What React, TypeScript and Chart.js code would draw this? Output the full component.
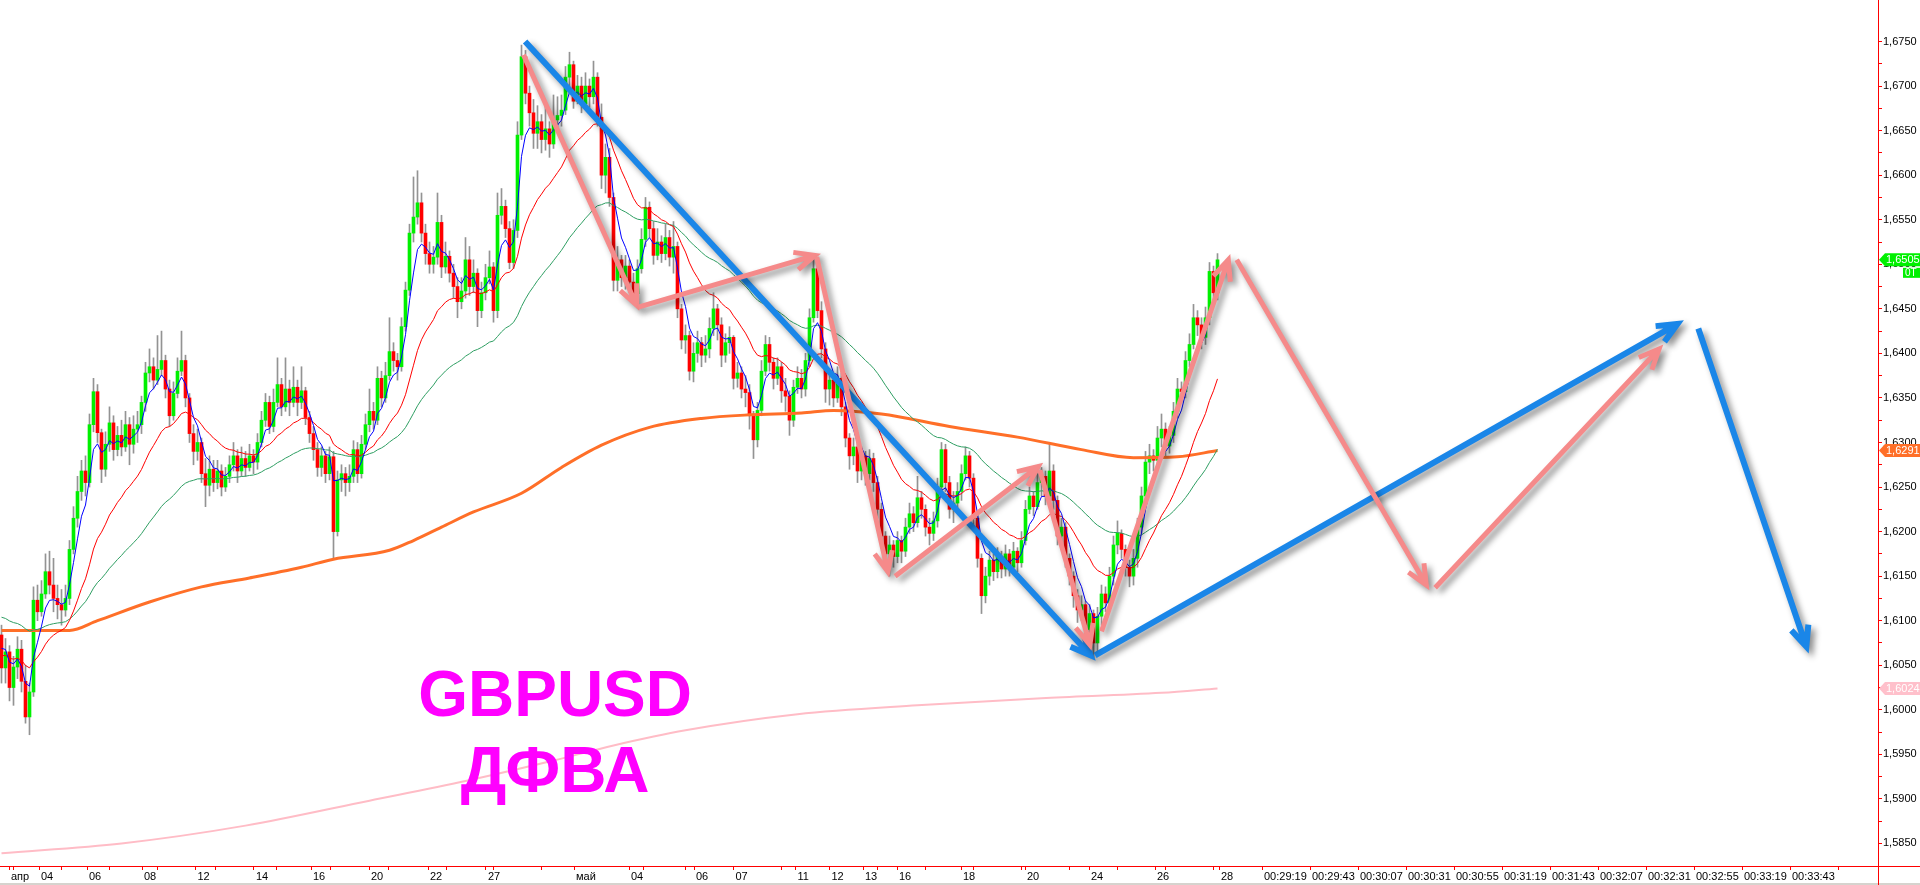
import React, { useEffect, useRef } from 'react';
import { Chart, registerables } from 'chart.js';

Chart.register(...registerables);

// ---------- price data (H4 bars) ----------
const firstOpen = 1.6084;

const closes = [
  1.6047, 1.6065, 1.6025, 1.6048, 1.6068, 1.6032, 1.5992, 1.6020, 1.6123, 1.6110,
  1.6130, 1.6155, 1.6140, 1.6125, 1.6118, 1.6112, 1.6125, 1.6180, 1.6215, 1.6245,
  1.6268, 1.6255, 1.6320, 1.6357, 1.6311, 1.6270, 1.6298, 1.6322, 1.6292, 1.6308,
  1.6295, 1.6320, 1.6298, 1.6315, 1.6320, 1.6345, 1.6378, 1.6385, 1.6370, 1.6382,
  1.6392, 1.6360, 1.6330, 1.6355, 1.6380, 1.6392, 1.6350, 1.6310, 1.6290, 1.6300,
  1.6265, 1.6252, 1.6270, 1.6255, 1.6268, 1.6250, 1.6262, 1.6275, 1.6285, 1.6268,
  1.6282, 1.6272, 1.6285, 1.6278, 1.6300, 1.6325, 1.6345, 1.6318, 1.6345, 1.6365,
  1.6340, 1.6360, 1.6345, 1.6362, 1.6345, 1.6358, 1.6328, 1.6310, 1.6292, 1.6272,
  1.6285, 1.6265, 1.6284, 1.6200, 1.6258, 1.6265, 1.6255, 1.6262, 1.6292, 1.6265,
  1.6298, 1.6320, 1.6335, 1.6325, 1.6372, 1.6350, 1.6375, 1.6402, 1.6392, 1.6385,
  1.6430, 1.6471, 1.6535, 1.6553, 1.6569, 1.6535, 1.6512, 1.6500, 1.6508, 1.6547,
  1.6497, 1.6509, 1.6490, 1.6475, 1.6458, 1.6470, 1.6505, 1.6475, 1.6490, 1.6448,
  1.6468, 1.6485, 1.6497, 1.6448, 1.6555, 1.6565, 1.6540, 1.6502, 1.6538, 1.6645,
  1.6733, 1.6692, 1.6670, 1.6647, 1.6660, 1.6640, 1.6652, 1.6635, 1.6662, 1.6667,
  1.6673, 1.6710, 1.6724, 1.6683, 1.6700, 1.6680, 1.6700, 1.6688, 1.6710, 1.6665,
  1.6600, 1.6620, 1.6575, 1.6482, 1.6505, 1.6485, 1.6498, 1.6480, 1.6467, 1.6495,
  1.6528, 1.6564, 1.6540, 1.6510, 1.6525, 1.6512, 1.6530, 1.6508, 1.6520, 1.6450,
  1.6415, 1.6420, 1.6380, 1.6400, 1.6412, 1.6398, 1.6405, 1.6428, 1.6450, 1.6432,
  1.6398, 1.6412, 1.6418, 1.6372, 1.6378, 1.6360, 1.6356, 1.6330, 1.6303, 1.6336,
  1.6380, 1.6410, 1.6390, 1.6372, 1.6385, 1.6358, 1.6352, 1.6325, 1.6362, 1.6372,
  1.6360, 1.6392, 1.6440, 1.6495, 1.6448, 1.6405, 1.6360, 1.6370, 1.6350, 1.6372,
  1.6340, 1.6305, 1.6285, 1.6295, 1.6268, 1.6285, 1.6265, 1.6282, 1.6255, 1.6225,
  1.6195, 1.6175, 1.6185, 1.6172, 1.6190, 1.6178, 1.6205, 1.6220, 1.6210, 1.6238,
  1.6225, 1.6205, 1.6198, 1.6212, 1.6250, 1.6292, 1.6255, 1.6225, 1.6232, 1.6245,
  1.6265, 1.6285, 1.6260, 1.6215, 1.6170, 1.6128, 1.6150, 1.6168, 1.6155, 1.6172,
  1.6158, 1.6175, 1.6160, 1.6178, 1.6165, 1.6190, 1.6225, 1.6240, 1.6228, 1.6255,
  1.6262, 1.6240, 1.6268, 1.6235, 1.6195, 1.6205, 1.6170, 1.6150, 1.6128, 1.6112,
  1.6118, 1.6090, 1.6108, 1.6075, 1.6105, 1.6130, 1.6120, 1.6150, 1.6185, 1.6198,
  1.6180, 1.6160, 1.6150, 1.6170, 1.6205, 1.6240, 1.6278, 1.6285, 1.6280, 1.6305,
  1.6315, 1.6296, 1.6308, 1.6335, 1.6360, 1.6357, 1.6392, 1.6410, 1.6440, 1.6432,
  1.6418, 1.6440, 1.6492, 1.6468, 1.6505,
];

const highs = [
  1.6095, 1.6080, 1.6072, 1.6060, 1.6082, 1.6078, 1.6050, 1.6030, 1.6138, 1.6140,
  1.6145, 1.6175, 1.6178, 1.6170, 1.6140, 1.6135, 1.6140, 1.6190, 1.6228, 1.6262,
  1.6280, 1.6285, 1.6332, 1.6372, 1.6365, 1.6315, 1.6312, 1.6340, 1.6330, 1.6318,
  1.6325, 1.6335, 1.6328, 1.6330, 1.6335, 1.6352, 1.6390, 1.6405, 1.6395, 1.6420,
  1.6425, 1.6398, 1.6370, 1.6368, 1.6395, 1.6425, 1.6398, 1.6355, 1.6320, 1.6315,
  1.6305, 1.6282, 1.6285, 1.6280, 1.6280, 1.6275, 1.6272, 1.6285, 1.6300, 1.6292,
  1.6295, 1.6290, 1.6298, 1.6292, 1.6310, 1.6335, 1.6355, 1.6352, 1.6360, 1.6395,
  1.6372, 1.6395, 1.6370, 1.6385, 1.6370, 1.6385, 1.6362, 1.6335, 1.6318, 1.6300,
  1.6295, 1.6290, 1.6295, 1.6290, 1.6268, 1.6275, 1.6272, 1.6275, 1.6302, 1.6300,
  1.6308, 1.6332, 1.6360, 1.6345, 1.6385, 1.6380, 1.6390, 1.6440, 1.6412, 1.6400,
  1.6440, 1.6480, 1.6545, 1.6598, 1.6605, 1.6580, 1.6545, 1.6525, 1.6520, 1.6580,
  1.6555, 1.6525, 1.6515, 1.6500, 1.6485, 1.6485, 1.6530, 1.6520, 1.6505, 1.6495,
  1.6480, 1.6500, 1.6515, 1.6502, 1.6580, 1.6585, 1.6572, 1.6548, 1.6550, 1.6660,
  1.6746, 1.6740, 1.6700, 1.6685, 1.6678, 1.6668, 1.6680, 1.6660, 1.6690, 1.6688,
  1.6690, 1.6722, 1.6738, 1.6728, 1.6712, 1.6710, 1.6715, 1.6708, 1.6728, 1.6715,
  1.6680, 1.6635, 1.6630, 1.6580, 1.6520, 1.6510, 1.6510, 1.6505, 1.6490, 1.6505,
  1.6540, 1.6575, 1.6570, 1.6548, 1.6540, 1.6532, 1.6545, 1.6538, 1.6548, 1.6525,
  1.6455, 1.6432, 1.6425, 1.6412, 1.6425, 1.6418, 1.6420, 1.6440, 1.6468, 1.6455,
  1.6440, 1.6422, 1.6430, 1.6420, 1.6390, 1.6385, 1.6375, 1.6365, 1.6335, 1.6345,
  1.6392, 1.6420, 1.6418, 1.6395, 1.6395, 1.6390, 1.6372, 1.6358, 1.6370, 1.6385,
  1.6382, 1.6400, 1.6450, 1.6510, 1.6500, 1.6458, 1.6412, 1.6380, 1.6375, 1.6385,
  1.6378, 1.6345, 1.6310, 1.6305, 1.6300, 1.6295, 1.6290, 1.6292, 1.6288, 1.6262,
  1.6232, 1.6200, 1.6195, 1.6190, 1.6200, 1.6195, 1.6215, 1.6232, 1.6228, 1.6262,
  1.6245, 1.6230, 1.6215, 1.6222, 1.6260, 1.6300, 1.6298, 1.6262, 1.6245, 1.6255,
  1.6275, 1.6295, 1.6290, 1.6265, 1.6220, 1.6175, 1.6160, 1.6178, 1.6175, 1.6182,
  1.6178, 1.6185, 1.6180, 1.6188, 1.6182, 1.6200, 1.6235, 1.6250, 1.6245, 1.6265,
  1.6272, 1.6268, 1.6300, 1.6275, 1.6240, 1.6215, 1.6210, 1.6175, 1.6155, 1.6135,
  1.6128, 1.6122, 1.6118, 1.6112, 1.6115, 1.6140, 1.6138, 1.6160, 1.6195, 1.6212,
  1.6202, 1.6185, 1.6168, 1.6180, 1.6215, 1.6250, 1.6290, 1.6298, 1.6292, 1.6318,
  1.6332, 1.6322, 1.6318, 1.6345, 1.6372, 1.6368, 1.6402, 1.6422, 1.6455, 1.6448,
  1.6440, 1.6452, 1.6502, 1.6498, 1.6512,
];

const lows = [
  1.6030, 1.6030, 1.6010, 1.6005, 1.6035, 1.6020, 1.5985, 1.5972, 1.6015, 1.6100,
  1.6105, 1.6125, 1.6130, 1.6110, 1.6102, 1.6095, 1.6105, 1.6118, 1.6175, 1.6205,
  1.6235, 1.6240, 1.6250, 1.6312, 1.6300, 1.6255, 1.6262, 1.6290, 1.6280, 1.6285,
  1.6285, 1.6290, 1.6275, 1.6288, 1.6300, 1.6310, 1.6335, 1.6368, 1.6360, 1.6365,
  1.6375, 1.6350, 1.6318, 1.6325, 1.6350, 1.6375, 1.6340, 1.6300, 1.6275, 1.6280,
  1.6255, 1.6228, 1.6240, 1.6245, 1.6248, 1.6240, 1.6245, 1.6255, 1.6268, 1.6255,
  1.6262, 1.6262, 1.6268, 1.6265, 1.6270, 1.6295, 1.6318, 1.6310, 1.6312, 1.6340,
  1.6330, 1.6335, 1.6330, 1.6340, 1.6330, 1.6338, 1.6320, 1.6300, 1.6280, 1.6262,
  1.6262, 1.6255, 1.6258, 1.6170, 1.6195, 1.6245, 1.6240, 1.6245, 1.6255, 1.6255,
  1.6260, 1.6292, 1.6312, 1.6315, 1.6320, 1.6340, 1.6345, 1.6370, 1.6380, 1.6370,
  1.6380, 1.6425, 1.6465, 1.6525, 1.6545, 1.6525, 1.6500, 1.6490, 1.6490, 1.6500,
  1.6485, 1.6490, 1.6480, 1.6462, 1.6440, 1.6450, 1.6462, 1.6465, 1.6468, 1.6430,
  1.6440, 1.6460, 1.6478, 1.6435, 1.6440, 1.6545, 1.6530, 1.6495, 1.6495, 1.6530,
  1.6640, 1.6680, 1.6655, 1.6630, 1.6630, 1.6625, 1.6628, 1.6620, 1.6630, 1.6648,
  1.6655, 1.6668, 1.6700, 1.6675, 1.6680, 1.6670, 1.6675, 1.6676, 1.6680, 1.6655,
  1.6585, 1.6580, 1.6565, 1.6470, 1.6470, 1.6475, 1.6472, 1.6468, 1.6458, 1.6462,
  1.6490, 1.6520, 1.6530, 1.6500, 1.6505, 1.6502, 1.6505, 1.6498, 1.6490, 1.6440,
  1.6405, 1.6400, 1.6370, 1.6368, 1.6390, 1.6385, 1.6390, 1.6395, 1.6420, 1.6415,
  1.6385, 1.6390, 1.6400, 1.6360, 1.6362, 1.6350, 1.6340, 1.6315, 1.6282, 1.6295,
  1.6330, 1.6375, 1.6380, 1.6360, 1.6365, 1.6345, 1.6335, 1.6308, 1.6318, 1.6355,
  1.6350, 1.6352, 1.6385, 1.6435, 1.6440, 1.6395, 1.6345, 1.6342, 1.6340, 1.6345,
  1.6330, 1.6295, 1.6270, 1.6275, 1.6255, 1.6258, 1.6252, 1.6258, 1.6245, 1.6215,
  1.6185, 1.6160, 1.6150, 1.6160, 1.6165, 1.6165, 1.6172, 1.6198, 1.6200, 1.6205,
  1.6215, 1.6195, 1.6185, 1.6190, 1.6205, 1.6245, 1.6245, 1.6215, 1.6210, 1.6222,
  1.6235, 1.6258, 1.6250, 1.6205, 1.6160, 1.6108, 1.6120, 1.6140, 1.6145, 1.6148,
  1.6148, 1.6150, 1.6150, 1.6155, 1.6155, 1.6160, 1.6185, 1.6220, 1.6218, 1.6225,
  1.6240, 1.6230, 1.6235, 1.6225, 1.6185, 1.6180, 1.6160, 1.6140, 1.6115, 1.6098,
  1.6100, 1.6075, 1.6080, 1.6058, 1.6065, 1.6095, 1.6110, 1.6112, 1.6140, 1.6175,
  1.6170, 1.6150, 1.6138, 1.6140, 1.6160, 1.6198, 1.6232, 1.6265, 1.6268, 1.6275,
  1.6295, 1.6285, 1.6288, 1.6300, 1.6328, 1.6345, 1.6350, 1.6385, 1.6405, 1.6420,
  1.6405, 1.6410, 1.6432, 1.6458, 1.6460,
];

// moving averages computed from the closes (seed = value read at the first bar)
const fastPeriod = 5;
const fastSeed = 1.6080;
const midPeriod = 21;
const midSeed = 1.6062;
const slowPeriod = 55;
const slowSeed = 1.6106;

// long moving averages at sparse bars
const orangeBars = [0, 17, 24, 37, 50, 62, 75, 83, 97, 103, 110, 118, 130, 140, 150, 162, 175, 187, 200, 208, 220, 237, 254, 270, 283, 294, 304];
const orangeValues = [1.6089, 1.6089, 1.6100, 1.6121, 1.6138, 1.6148, 1.6160, 1.6169, 1.6179, 1.6190, 1.6205, 1.6222, 1.6243, 1.6272, 1.6297, 1.6317, 1.6327, 1.6331, 1.6333, 1.6336, 1.6332, 1.6318, 1.6306, 1.6292, 1.6283, 1.6284, 1.6291];
const pinkBars = [0, 30, 61, 92, 116, 138, 153, 171, 199, 229, 260, 290, 304];
const pinkValues = [1.5839, 1.5850, 1.5870, 1.5898, 1.5920, 1.5943, 1.5960, 1.5977, 1.5995, 1.6005, 1.6013, 1.6019, 1.6024];

// axis ticks
const xTickBars = [
  1.875, 2.975, 9.375, 15.0, 21.375, 26.875, 35.125, 38.875, 48.5, 53.375,
  63.125, 68.625, 77.375, 82.125, 91.875, 96.625, 106.625, 111.125, 121.125, 122.875,
  134.875, 143.125, 156.875, 160.375, 170.875, 173.125, 183.0, 194.875, 198.5, 207.0,
  215.375, 219.05, 223.875, 230.875, 239.875, 242.875, 254.875, 255.875, 267.0, 271.875,
  278.875, 288.375, 291.0, 302.875, 304.375, 315.125, 327.125, 339.125, 351.125, 363.125,
  375.125, 387.125, 399.125, 411.125, 423.125, 435.125, 447.125, 459.125,
];
const xTickLabels = [
  'апр', '', '04', '', '06', '', '08', '', '12', '',
  '14', '', '16', '', '20', '', '22', '', '27', '',
  '', 'май', '04', '', '', '06', '07', '', '11', '12',
  '13', '', '16', '', '18', '', '', '20', '', '24',
  '', '26', '', '', '28', '00:29:19', '00:29:43', '00:30:07', '00:30:31', '00:30:55',
  '00:31:19', '00:31:43', '00:32:07', '00:32:31', '00:32:55', '00:33:19', '00:33:43', '',
];
const yTickValues = [
  1.5850, 1.5875, 1.5900, 1.5925, 1.5950, 1.5975, 1.6000, 1.6025, 1.6050, 1.6075,
  1.6100, 1.6125, 1.6150, 1.6175, 1.6200, 1.6225, 1.6250, 1.6275, 1.6300, 1.6325,
  1.6350, 1.6375, 1.6400, 1.6425, 1.6450, 1.6475, 1.6500, 1.6525, 1.6550, 1.6575,
  1.6600, 1.6625, 1.6650, 1.6675, 1.6700, 1.6725, 1.6750,
];

// hand-drawn annotation arrows: [fromBar, fromPrice, toBar, toPrice]
const blueArrows = [
  [130.9, 1.6750, 272.3, 1.6061],
  [273.4, 1.6061, 419.0, 1.6433],
  [424.2, 1.6428, 451.2, 1.6071],
];
const pinkArrows = [
  [130.5, 1.6735, 158.8, 1.6454],
  [159.2, 1.6452, 203.4, 1.6510],
  [203.8, 1.6508, 221.6, 1.6155],
  [223.4, 1.6150, 259.2, 1.6273],
  [259.6, 1.6269, 272.1, 1.6073],
  [275.0, 1.6088, 306.7, 1.6505],
  [308.8, 1.6505, 356.2, 1.6140],
  [358.4, 1.6137, 414.4, 1.6405],
];
const titleLines = ['GBPUSD', 'ДФВА'];
const titleBar = 138.4;
const titlePrices = [1.5993, 1.5908];

const X_MIN = -0.375;
const X_MAX = 469.125;
const Y_MIN = 1.58247;
const Y_MAX = 1.67966;

const FONT = '"Liberation Sans", Arial, sans-serif';
const UP = '#00f000';
const DOWN = '#ff0000';
const BLUE_ARROW = '#1a86e8';
const PINK_ARROW = '#f58a8a';

function ema(values: number[], period: number, seed: number) {
  const k = 2 / (period + 1);
  let prev = seed;
  return values.map((v) => (prev = prev + k * (v - prev)));
}

function fmt(v: number) {
  return v.toFixed(4).replace('.', ',');
}

function drawArrow(ctx: CanvasRenderingContext2D, x1: number, y1: number, x2: number, y2: number, color: string, width: number) {
  const ang = Math.atan2(y2 - y1, x2 - x1);
  const L = 22;
  const a = 0.42;
  ctx.save();
  ctx.strokeStyle = color;
  ctx.lineWidth = width;
  ctx.lineCap = 'butt';
  ctx.lineJoin = 'miter';
  ctx.shadowColor = 'rgba(0,0,0,0.45)';
  ctx.shadowBlur = 6;
  ctx.shadowOffsetX = 4;
  ctx.shadowOffsetY = 4;
  ctx.beginPath();
  ctx.moveTo(x1, y1);
  ctx.lineTo(x2, y2);
  ctx.moveTo(x2 - L * Math.cos(ang - a), y2 - L * Math.sin(ang - a));
  ctx.lineTo(x2, y2);
  ctx.lineTo(x2 - L * Math.cos(ang + a), y2 - L * Math.sin(ang + a));
  ctx.stroke();
  ctx.restore();
}

function priceTag(ctx: CanvasRenderingContext2D, xLeft: number, y: number, bg: string, text: string) {
  ctx.save();
  ctx.fillStyle = bg;
  ctx.beginPath();
  ctx.moveTo(xLeft + 1, y);
  ctx.lineTo(xLeft + 7, y - 6.5);
  ctx.lineTo(1920, y - 6.5);
  ctx.lineTo(1920, y + 6.5);
  ctx.lineTo(xLeft + 7, y + 6.5);
  ctx.closePath();
  ctx.fill();
  ctx.fillStyle = '#ffffff';
  ctx.font = `11px ${FONT}`;
  ctx.textAlign = 'left';
  ctx.textBaseline = 'middle';
  ctx.fillText(text, xLeft + 8, y + 0.5);
  ctx.restore();
}

const overlayPlugin = {
  id: 'overlay',
  afterDatasetsDraw(chart: any) {
    const ctx: CanvasRenderingContext2D = chart.ctx;
    const xs = chart.scales.x;
    const ys = chart.scales.y;
    const P = (b: number, v: number) => [xs.getPixelForValue(b), ys.getPixelForValue(v)];
    blueArrows.forEach((a) => {
      const [x1, y1] = P(a[0], a[1]);
      const [x2, y2] = P(a[2], a[3]);
      drawArrow(ctx, x1, y1, x2, y2, BLUE_ARROW, 6);
    });
    pinkArrows.forEach((a) => {
      const [x1, y1] = P(a[0], a[1]);
      const [x2, y2] = P(a[2], a[3]);
      drawArrow(ctx, x1, y1, x2, y2, PINK_ARROW, 5);
    });
    ctx.save();
    ctx.fillStyle = '#ff00ff';
    ctx.font = `bold 64px ${FONT}`;
    ctx.textAlign = 'center';
    ctx.textBaseline = 'alphabetic';
    titleLines.forEach((t, i) => {
      const [px, py] = P(titleBar, titlePrices[i]);
      ctx.fillText(t, px, py);
    });
    ctx.restore();
  },
  afterDraw(chart: any) {
    const ctx: CanvasRenderingContext2D = chart.ctx;
    const ys = chart.scales.y;
    const { right, bottom } = chart.chartArea;
    ctx.save();
    ctx.fillStyle = '#d6d3ce';
    ctx.fillRect(0, 883, 1920, 2);
    ctx.strokeStyle = '#ff0000';
    ctx.lineWidth = 1;
    ctx.beginPath();
    ctx.moveTo(Math.round(right) + 0.5, 0);
    ctx.lineTo(Math.round(right) + 0.5, 885);
    ctx.moveTo(0, Math.round(bottom) + 0.5);
    ctx.lineTo(1920, Math.round(bottom) + 0.5);
    ctx.stroke();
    ctx.restore();

    const lastClose = closes[closes.length - 1];
    const lastOrange = orangeValues[orangeValues.length - 1];
    const lastPink = pinkValues[pinkValues.length - 1];
    priceTag(ctx, right, ys.getPixelForValue(lastPink), '#ffc0cb', fmt(lastPink));
    priceTag(ctx, right, ys.getPixelForValue(lastOrange), '#ff6f28', fmt(lastOrange));
    const gy = ys.getPixelForValue(lastClose);
    priceTag(ctx, right, gy, '#00f000', fmt(lastClose));
    ctx.save();
    ctx.fillStyle = '#00f000';
    ctx.fillRect(1903, gy + 8, 17, 10);
    ctx.fillStyle = '#ffffff';
    ctx.font = `10px ${FONT}`;
    ctx.textAlign = 'left';
    ctx.textBaseline = 'middle';
    ctx.fillText('0T', 1905, gy + 13.5);
    ctx.restore();
  },
};

export default function App() {
  const ref = useRef<HTMLCanvasElement>(null);

  useEffect(() => {
    document.body.style.margin = '0';
    const canvas = ref.current;
    if (!canvas) return;

    const opens = closes.map((_, i) => (i === 0 ? firstOpen : closes[i - 1]));
    const bodies = closes.map((c, i) => ({ x: i, y: [opens[i], c] }));
    const bodyColors = closes.map((c, i) => (c >= opens[i] ? UP : DOWN));
    const wicks = closes.map((_, i) => ({ x: i, y: [lows[i], highs[i]] }));
    const fast = ema(closes, fastPeriod, fastSeed).map((v, i) => ({ x: i, y: v }));
    const mid = ema(closes, midPeriod, midSeed).map((v, i) => ({ x: i, y: v }));
    const slow = ema(closes, slowPeriod, slowSeed).map((v, i) => ({ x: i, y: v }));
    const orange = orangeBars.map((b, i) => ({ x: b, y: orangeValues[i] }));
    const pink = pinkBars.map((b, i) => ({ x: b, y: pinkValues[i] }));

    const lineBase = { type: 'line', pointRadius: 0, fill: false, tension: 0 };

    const chart = new Chart(canvas, {
      type: 'bar',
      data: {
        datasets: [
          { type: 'bar', label: 'wicks', data: wicks, backgroundColor: '#939393', barThickness: 1, grouped: false, order: 6, borderWidth: 0 },
          { type: 'bar', label: 'bodies', data: bodies, backgroundColor: bodyColors, barThickness: 3, grouped: false, order: 5, borderWidth: 0, minBarLength: 1 },
          { ...lineBase, label: 'ma-long', data: pink, borderColor: '#ffbcc6', borderWidth: 2, cubicInterpolationMode: 'monotone', order: 4 },
          { ...lineBase, label: 'ma-200', data: orange, borderColor: '#ff6f28', borderWidth: 3, cubicInterpolationMode: 'monotone', order: 3 },
          { ...lineBase, label: 'ma-slow', data: slow, borderColor: '#2e9e62', borderWidth: 1, order: 2 },
          { ...lineBase, label: 'ma-mid', data: mid, borderColor: '#ff0000', borderWidth: 1, order: 1 },
          { ...lineBase, label: 'ma-fast', data: fast, borderColor: '#0000ff', borderWidth: 1, order: 0 },
        ] as any,
      },
      options: {
        responsive: false,
        animation: false,
        devicePixelRatio: 1,
        events: [],
        layout: { padding: 0 },
        plugins: { legend: { display: false }, tooltip: { enabled: false } },
        scales: {
          x: {
            type: 'linear',
            position: 'bottom',
            min: X_MIN,
            max: X_MAX,
            offset: false,
            bounds: 'data',
            grid: { display: true, drawOnChartArea: false, drawTicks: true, tickLength: 4, tickColor: '#ff0000', offset: false },
            border: { display: true, color: '#ff0000', width: 1 },
            ticks: {
              autoSkip: false,
              maxRotation: 0,
              minRotation: 0,
              align: 'start',
              labelOffset: 2,
              padding: 0,
              color: '#000000',
              font: { size: 11, family: FONT },
              callback: (_v: any, i: number) => xTickLabels[i] ?? '',
            },
            afterBuildTicks: (s: any) => {
              s.ticks = xTickBars.map((v) => ({ value: v }));
            },
            afterFit: (s: any) => {
              s.height = 19;
              s.paddingLeft = 0;
              s.paddingRight = 0;
            },
          },
          y: {
            type: 'linear',
            position: 'right',
            min: Y_MIN,
            max: Y_MAX,
            bounds: 'data',
            grid: { display: true, drawOnChartArea: false, drawTicks: true, tickLength: 4, tickColor: '#ff0000' },
            border: { display: true, color: '#ff0000', width: 1 },
            ticks: {
              autoSkip: false,
              padding: 1,
              color: '#000000',
              font: { size: 11, family: FONT },
              callback: (_v: any, i: number) => (i % 2 === 0 ? fmt(yTickValues[i]) : ''),
            },
            afterBuildTicks: (s: any) => {
              s.ticks = yTickValues.map((v) => ({ value: v }));
            },
            afterFit: (s: any) => {
              s.width = 42;
              s.paddingTop = 0;
              s.paddingBottom = 0;
            },
          },
        },
      } as any,
      plugins: [overlayPlugin as any],
    });

    return () => chart.destroy();
  }, []);

  return (
    <div style={{ width: 1920, height: 885, position: 'relative' }}>
      <canvas ref={ref} width={1920} height={885} style={{ display: 'block', width: 1920, height: 885 }} />
    </div>
  );
}
